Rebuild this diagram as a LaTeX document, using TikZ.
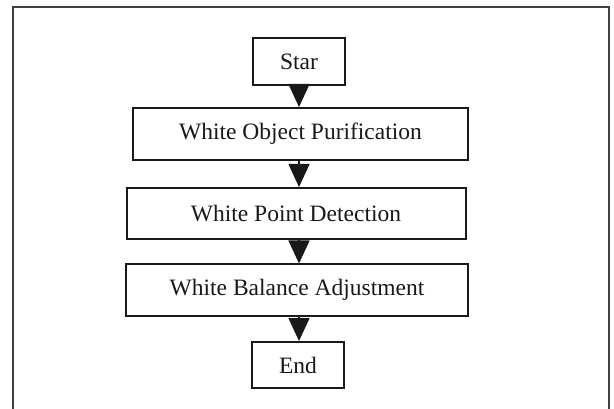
\documentclass[tikz,border=0pt]{standalone}
\usepackage{fontspec}
\setmainfont{Liberation Serif}
\usetikzlibrary{arrows.meta}
\begin{document}
\begin{tikzpicture}[x=1pt,y=-1pt,
  stepbox/.style={draw=black!90,line width=2pt,rectangle,inner sep=0pt,
    font=\fontsize{23.5}{28}\selectfont,text=black!90},
  arr/.style={draw=black!90,line width=1.5pt,-{Triangle[width=21pt,length=23pt]}},
  frame/.style={draw=black!75,line width=2.2pt}]
\useasboundingbox (0,0) rectangle (614,409);
\draw[frame] (13,412) -- (13,7) -- (609,7) -- (609,412);
\node[stepbox,minimum width=92pt,minimum height=47pt] (star) at (299,61.5) {Star};
\node[stepbox,minimum width=335pt,minimum height=52pt] (wop) at (300.5,134) {White Object Purification};
\node[stepbox,minimum width=339pt,minimum height=51pt] (wpd) at (296,213.5) {White Point Detection};
\node[stepbox,minimum width=342pt,minimum height=51pt] (wba) at (297,290) {White Balance Adjustment};
\node[stepbox,minimum width=92pt,minimum height=46pt] (end) at (298,365) {End};
\draw[arr] (star.south) -- (star.south |- wop.north);
\draw[arr] (wop.south -| star.south) -- (star.south |- wpd.north);
\draw[arr] (wpd.south -| star.south) -- (star.south |- wba.north);
\draw[arr] (wba.south -| star.south) -- (star.south |- end.north);
\end{tikzpicture}
\end{document}
